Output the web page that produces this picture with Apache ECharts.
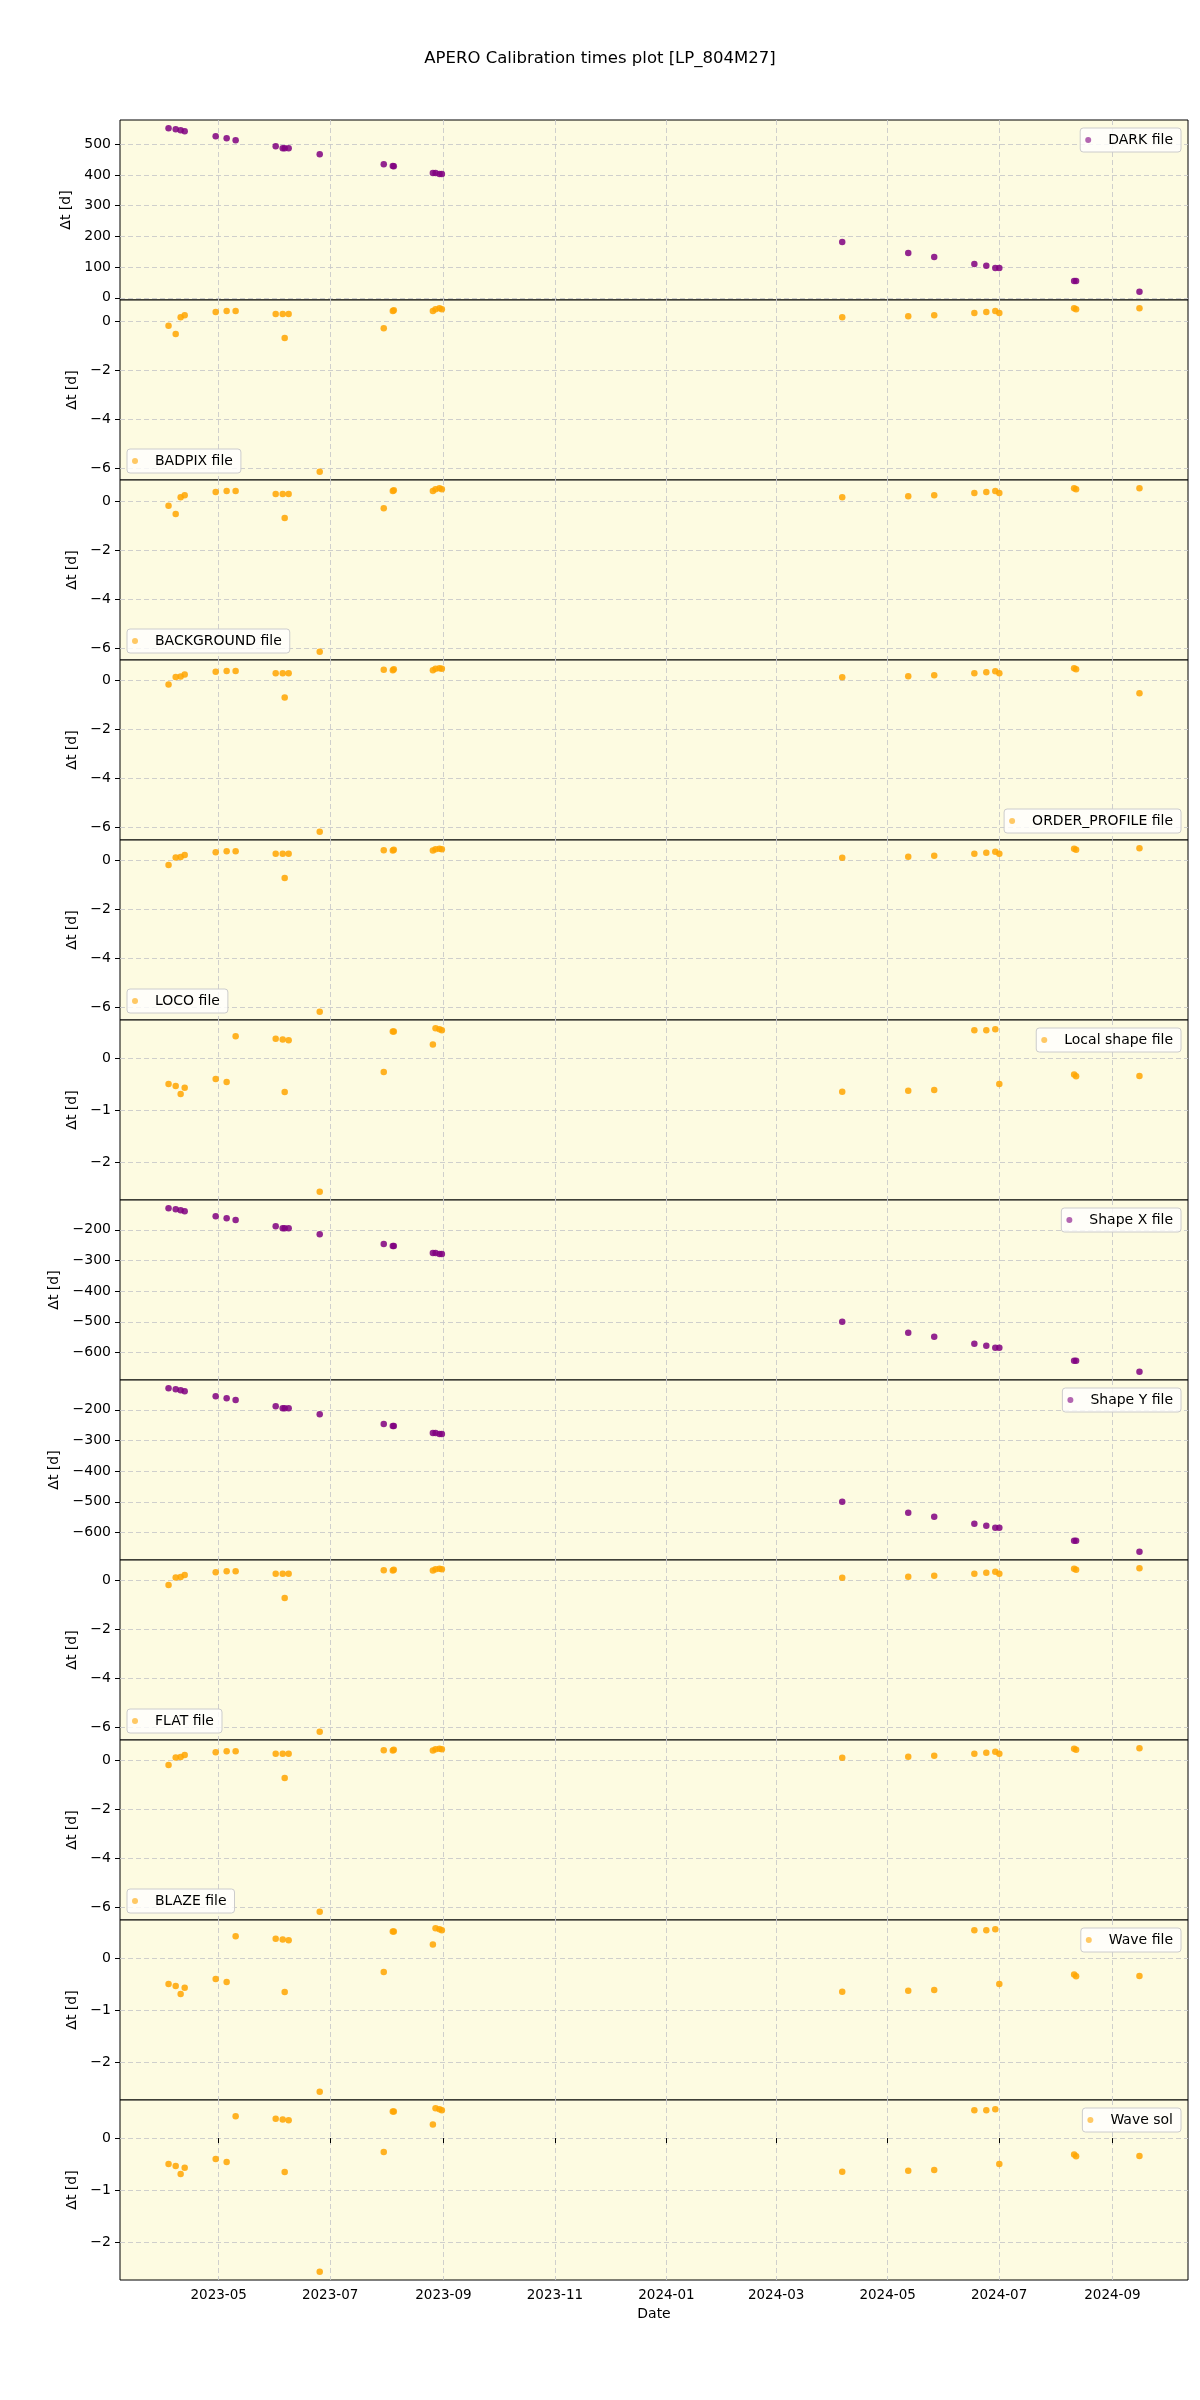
<!DOCTYPE html>
<html><head><meta charset="utf-8">
<script src="https://cdn.jsdelivr.net/npm/echarts@6/dist/echarts.min.js"></script>
<style>html,body{margin:0;padding:0;background:#fff}#c{width:1200px;height:2400px}</style>
</head><body><div id="c"></div>
<script>
// ---- data ----
const dates = [
 '2023-04-03 14:00','2023-04-07 12:00','2023-04-10 05:00','2023-04-12 10:00','2023-04-29 09:00',
 '2023-05-05 09:00','2023-05-10 07:00','2023-06-01 05:00','2023-06-05 01:00','2023-06-06 03:00',
 '2023-06-08 07:00','2023-06-25 07:00','2023-07-30 08:00','2023-08-04 07:00','2023-08-04 20:00',
 '2023-08-26 05:00','2023-08-27 16:00','2023-08-29 20:00','2023-08-31 03:00',
 '2024-04-06 04:00','2024-05-12 07:00','2024-05-26 12:00','2024-06-17 11:00','2024-06-24 00:00',
 '2024-06-28 22:00','2024-07-01 03:00','2024-08-11 01:00','2024-08-12 03:00','2024-09-15 19:00'];

const darkVals = [552, 548.7, 545.5, 542, 526, 519.5, 513, 493.5, 487, 487, 487, 467.5, 435, 429, 428.5,
 405.8, 405.8, 402.6, 402.6, 181.8, 146, 133, 110, 104, 97.4, 97.4, 55, 55, 19.5];
const badpixVals = [-0.19, -0.53, 0.16, 0.245, 0.37, 0.41, 0.41, 0.29, 0.29, -0.69, 0.29, -6.16, -0.29, 0.41, 0.45,
 0.41, 0.49, 0.53, 0.49, 0.16, 0.2, 0.245, 0.33, 0.37, 0.41, 0.33, 0.53, 0.49, 0.53];
const backgroundVals = [-0.19, -0.53, 0.16, 0.245, 0.37, 0.41, 0.41, 0.29, 0.29, -0.69, 0.29, -6.16, -0.29, 0.41, 0.45,
 0.41, 0.49, 0.53, 0.49, 0.16, 0.2, 0.245, 0.33, 0.37, 0.41, 0.33, 0.53, 0.49, 0.53];
const orderProfileVals = [-0.19, 0.12, 0.14, 0.22, 0.33, 0.37, 0.37, 0.27, 0.27, -0.72, 0.27, -6.2, 0.42, 0.40, 0.44,
 0.40, 0.46, 0.48, 0.46, 0.11, 0.15, 0.19, 0.27, 0.31, 0.355, 0.27, 0.48, 0.44, -0.54];
const locoVals = [-0.19, 0.12, 0.14, 0.22, 0.33, 0.37, 0.37, 0.27, 0.27, -0.72, 0.27, -6.2, 0.42, 0.40, 0.44,
 0.40, 0.46, 0.48, 0.46, 0.11, 0.15, 0.19, 0.27, 0.31, 0.355, 0.27, 0.48, 0.44, 0.50];
const localShapeVals = [-0.497, -0.535, -0.688, -0.568, -0.40, -0.459, 0.42, 0.369, 0.356, -0.65, 0.344, -2.567, -0.268, 0.509, 0.509,
 0.26, 0.574, 0.555, 0.535, -0.645, -0.625, -0.612, 0.535, 0.535, 0.555, -0.497, -0.313, -0.35, -0.344];
const shapeXVals = [-129.4, -132.7, -136, -139, -155.4, -162, -168.3, -188, -194.5, -194.5, -194.5, -214, -246.5, -253, -253,
 -275.8, -275.8, -279, -279, -500, -536, -549, -571.7, -578, -584.7, -584.7, -627, -627, -663];
const shapeYVals = [-129.4, -132.7, -136, -139, -155.4, -162, -168.3, -188, -194.5, -194.5, -194.5, -214, -246.5, -253, -253,
 -275.8, -275.8, -279, -279, -500, -536, -549, -571.7, -578, -584.7, -584.7, -627, -627, -663];
const flatVals = [-0.19, 0.12, 0.14, 0.22, 0.33, 0.37, 0.37, 0.27, 0.27, -0.72, 0.27, -6.2, 0.42, 0.40, 0.44,
 0.40, 0.46, 0.48, 0.46, 0.11, 0.15, 0.19, 0.27, 0.31, 0.355, 0.27, 0.48, 0.44, 0.50];
const blazeVals = [-0.19, 0.12, 0.14, 0.22, 0.33, 0.37, 0.37, 0.27, 0.27, -0.72, 0.27, -6.2, 0.42, 0.40, 0.44,
 0.40, 0.46, 0.48, 0.46, 0.11, 0.15, 0.19, 0.27, 0.31, 0.355, 0.27, 0.48, 0.44, 0.50];
const waveFileVals = [-0.497, -0.535, -0.688, -0.568, -0.40, -0.459, 0.42, 0.369, 0.356, -0.65, 0.344, -2.567, -0.268, 0.509, 0.509,
 0.26, 0.574, 0.555, 0.535, -0.645, -0.625, -0.612, 0.535, 0.535, 0.555, -0.497, -0.313, -0.35, -0.344];
const waveSolVals = [-0.497, -0.535, -0.688, -0.568, -0.40, -0.459, 0.42, 0.369, 0.356, -0.65, 0.344, -2.567, -0.268, 0.509, 0.509,
 0.26, 0.574, 0.555, 0.535, -0.645, -0.625, -0.612, 0.535, 0.535, 0.555, -0.497, -0.313, -0.35, -0.344];

const xTicks = ['2023-05-01','2023-07-01','2023-09-01','2023-11-01','2024-01-01','2024-03-01','2024-05-01','2024-07-01','2024-09-01'];
const darkTicks = [0, 100, 200, 300, 400, 500];
const smallTicks = [-6, -4, -2, 0];
const shapeTicks = [-2, -1, 0];
const shapeXYTicks = [-600, -500, -400, -300, -200];

const seriesNames = ['DARK file','BADPIX file','BACKGROUND file','ORDER_PROFILE file','LOCO file','Local shape file',
 'Shape X file','Shape Y file','FLAT file','BLAZE file','Wave file','Wave sol'];

// ---- layout / style ----
const PURPLE = '#800080', ORANGE = '#FFA500';
const panels = [
 {vals: darkVals, color: PURPLE, ticks: darkTicks, leg: 'ur', gap: 43},
 {vals: badpixVals, color: ORANGE, ticks: smallTicks, leg: 'll', gap: 37},
 {vals: backgroundVals, color: ORANGE, ticks: smallTicks, leg: 'll', gap: 37},
 {vals: orderProfileVals, color: ORANGE, ticks: smallTicks, leg: 'lr', gap: 37},
 {vals: locoVals, color: ORANGE, ticks: smallTicks, leg: 'll', gap: 37},
 {vals: localShapeVals, color: ORANGE, ticks: shapeTicks, leg: 'ur', gap: 37},
 {vals: shapeXVals, color: PURPLE, ticks: shapeXYTicks, leg: 'ur', gap: 55},
 {vals: shapeYVals, color: PURPLE, ticks: shapeXYTicks, leg: 'ur', gap: 55},
 {vals: flatVals, color: ORANGE, ticks: smallTicks, leg: 'll', gap: 37},
 {vals: blazeVals, color: ORANGE, ticks: smallTicks, leg: 'll', gap: 37},
 {vals: waveFileVals, color: ORANGE, ticks: shapeTicks, leg: 'ur', gap: 37},
 {vals: waveSolVals, color: ORANGE, ticks: shapeTicks, leg: 'ur', gap: 37}
];

const FONT = 'DejaVu Sans';
const TOP0 = 120, PH = 180, LEFT = 120, RIGHT = 12;
const toMs = s => { const m = s.match(/(\d+)-(\d+)-(\d+)(?:\s+(\d+):(\d+))?/);
  return Date.UTC(+m[1], +m[2] - 1, +m[3], m[4] ? +m[4] : 0, m[5] ? +m[5] : 0); };
const times = dates.map(toMs);
const xTickMs = xTicks.map(toMs);
const tMin = Math.min(...times), tMax = Math.max(...times);
const xMin = tMin - 0.05 * (tMax - tMin), xMax = tMax + 0.05 * (tMax - tMin);
const minus = v => String(v).replace('-', '\u2212');
const fmtDate = v => { const d = new Date(v); return d.getUTCFullYear() + '-' + String(d.getUTCMonth() + 1).padStart(2, '0'); };
const gridLine = {show: true, lineStyle: {color: '#c9c9c9', type: [5, 3], width: 0.9}};

const grid = [], xAxis = [], yAxis = [], series = [], legend = [];
panels.forEach((p, i) => {
  const top = TOP0 + PH * i;
  const last = i === panels.length - 1;
  grid.push({left: LEFT, right: RIGHT, top: top, height: PH, show: true,
    backgroundColor: '#fdfbe1', borderColor: '#000', borderWidth: 1});
  xAxis.push({type: 'value', gridIndex: i, min: xMin, max: xMax, scale: true,
    axisLine: {show: false},
    axisTick: {show: last, length: 5, lineStyle: {color: '#000'}, customValues: xTickMs},
    axisLabel: {show: last, customValues: xTickMs, margin: 8, fontFamily: FONT, fontSize: 13.5, color: '#000',
      formatter: fmtDate},
    splitLine: gridLine,
    name: last ? 'Date' : '', nameLocation: 'middle', nameGap: 27,
    nameTextStyle: {fontFamily: FONT, fontSize: 14, color: '#000'}
  });
  const vmin = Math.min(...p.vals), vmax = Math.max(...p.vals), r = vmax - vmin;
  yAxis.push({type: 'value', gridIndex: i, min: vmin - 0.05 * r, max: vmax + 0.05 * r, scale: true,
    axisLine: {show: false},
    axisTick: {show: true, length: 5, lineStyle: {color: '#000'}, customValues: p.ticks},
    axisLabel: {customValues: p.ticks, margin: 9, fontFamily: FONT, fontSize: 14, color: '#000', formatter: minus},
    splitLine: gridLine,
    name: '\u0394t [d]', nameLocation: 'middle', nameGap: p.gap,
    nameTextStyle: {fontFamily: FONT, fontSize: 14, color: '#000'}
  });
  series.push({type: 'scatter', name: seriesNames[i], xAxisIndex: i, yAxisIndex: i,
    symbolSize: 6.5, itemStyle: {color: p.color, opacity: 0.85},
    data: times.map((t, k) => [t, p.vals[k]])});
  const lg = {data: [seriesNames[i]], orient: 'horizontal', icon: 'circle', itemWidth: 30, itemHeight: 6,
    padding: [5, 8, 5, 5], backgroundColor: 'rgba(255,255,255,0.8)', borderColor: '#cccccc', borderWidth: 1, borderRadius: 3,
    textStyle: {fontFamily: FONT, fontSize: 14, color: '#000'}, itemStyle: {opacity: 0.6}};
  const bottomPx = 2400 - (top + PH - 7);
  if (p.leg === 'ur') { lg.right = 19; lg.top = top + 8; }
  else if (p.leg === 'll') { lg.left = 127; lg.bottom = bottomPx; }
  else { lg.right = 19; lg.bottom = bottomPx; }
  legend.push(lg);
});

const chart = echarts.init(document.getElementById('c'), null, {renderer: 'canvas'});
chart.setOption({
  animation: false,
  backgroundColor: '#fff',
  title: {text: 'APERO Calibration times plot [LP_804M27]', left: 'center', top: 45,
    textStyle: {fontFamily: FONT, fontSize: 16.5, fontWeight: 'normal', color: '#000'}},
  grid, xAxis, yAxis, series, legend
});
</script></body></html>
